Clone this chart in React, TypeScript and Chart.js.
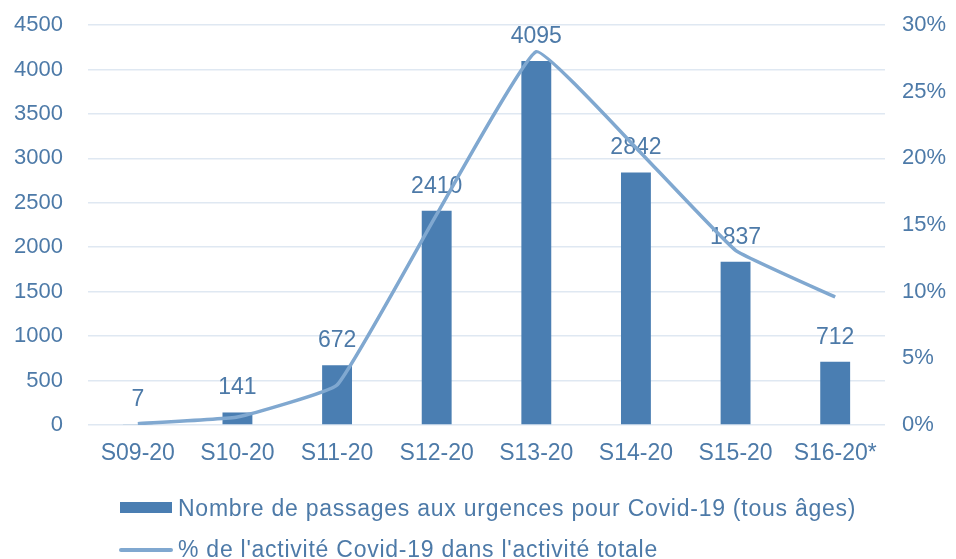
import React, { useEffect, useRef } from "react";
import { Chart, registerables } from "chart.js";

Chart.register(...registerables);

const categories = ["S09-20", "S10-20", "S11-20", "S12-20", "S13-20", "S14-20", "S15-20", "S16-20*"];
const passages = [7, 141, 672, 2410, 4095, 2842, 1837, 712];
const pctActivity = [0.1, 0.6, 3.0, 15.8, 28.0, 20.8, 13.1, 9.6];
const leftTicks = { min: 0, max: 4500, step: 500 };
const rightTicks = { min: 0, max: 30, step: 5 };
const barLabel = "Nombre de passages aux urgences pour Covid-19 (tous âges)";
const lineLabel = "% de l'activité Covid-19 dans l'activité totale";

const TEXT = "#4d7aa8";
const BAR = "#4a7eb2";
const LINE = "#80a8d0";
const GRID = "#dfe8f2";
const FONT = "'Liberation Sans', Arial, sans-serif";

const valueLabels = {
  id: "valueLabels",
  afterDatasetDraw(chart: any, args: any) {
    const ds = chart.data.datasets[args.index];
    if (ds.type !== "bar") return;
    const ctx = chart.ctx;
    ctx.save();
    ctx.font = `23px ${FONT}`;
    ctx.fillStyle = TEXT;
    ctx.textAlign = "center";
    ctx.textBaseline = "alphabetic";
    args.meta.data.forEach((el: any, i: number) => {
      ctx.fillText(String(ds.data[i]), el.x, el.y - 18);
    });
    ctx.restore();
  },
};

export default function App() {
  const ref = useRef<HTMLCanvasElement | null>(null);
  useEffect(() => {
    document.documentElement.style.overflow = "hidden";
    const chart = new Chart(ref.current as HTMLCanvasElement, {
      type: "bar",
      data: {
        labels: categories,
        datasets: [
          {
            type: "line",
            label: lineLabel,
            data: pctActivity,
            yAxisID: "y1",
            borderColor: LINE,
            borderWidth: 3.5,
            pointRadius: 0,
            tension: 0.1,
            fill: false,
            order: 0,
          } as any,
          {
            type: "bar",
            label: barLabel,
            data: passages,
            yAxisID: "y",
            backgroundColor: BAR,
            barPercentage: 0.6,
            categoryPercentage: 0.5,
            order: 1,
          } as any,
        ],
      },
      options: {
        animation: false,
        responsive: true,
        maintainAspectRatio: false,
        layout: { padding: { top: 17, bottom: 86, left: 0, right: 0 } },
        plugins: { legend: { display: false }, tooltip: { enabled: false } },
        scales: {
          x: {
            grid: { display: false, drawTicks: false },
            border: { display: false },
            ticks: { color: TEXT, font: { family: FONT, size: 23 }, padding: 15, maxRotation: 0, autoSkip: false },
            afterFit: (s: any) => { s.height = 40; s.paddingLeft = 0; s.paddingRight = 0; },
          },
          y: {
            position: "left",
            min: leftTicks.min,
            max: leftTicks.max,
            grid: { color: GRID, lineWidth: 1.5, drawTicks: false },
            border: { display: false },
            ticks: {
              stepSize: leftTicks.step,
              color: TEXT,
              font: { family: FONT, size: 22 },
              padding: 25,
              callback: (v: any) => String(v),
            },
            afterFit: (s: any) => { s.width = 80; s.paddingTop = 0; s.paddingBottom = 0; },
          },
          y1: {
            position: "right",
            min: rightTicks.min,
            max: rightTicks.max,
            grid: { display: false, drawTicks: false },
            border: { display: false },
            ticks: {
              stepSize: rightTicks.step,
              color: TEXT,
              font: { family: FONT, size: 22 },
              padding: 17,
              callback: (v: any) => `${v}%`,
            },
            afterFit: (s: any) => { s.width = 63; s.paddingTop = 0; s.paddingBottom = 0; },
          },
        },
      },
      plugins: [valueLabels],
    });
    return () => chart.destroy();
  }, []);

  const textStyle: React.CSSProperties = {
    position: "absolute",
    left: 170,
    fontFamily: FONT,
    fontSize: 23,
    letterSpacing: "0.75px",
    color: TEXT,
    whiteSpace: "nowrap",
    lineHeight: "26px",
  };

  return (
    <div style={{ position: "relative", width: 940, height: 551 }}>
      <div style={{ position: "relative", width: 940, height: 543 }}>
        <canvas ref={ref} style={{ display: "block" }} />
      </div>
      <div style={{ position: "absolute", left: 112, top: 494, width: 52, height: 11, background: BAR }} />
      <div style={{ ...textStyle, top: 487 }}>{barLabel}</div>
      <div style={{ position: "absolute", left: 111, top: 540, width: 54, height: 3.5, background: LINE, borderRadius: 2 }} />
      <div style={{ ...textStyle, top: 528 }}>{lineLabel}</div>
    </div>
  );
}
